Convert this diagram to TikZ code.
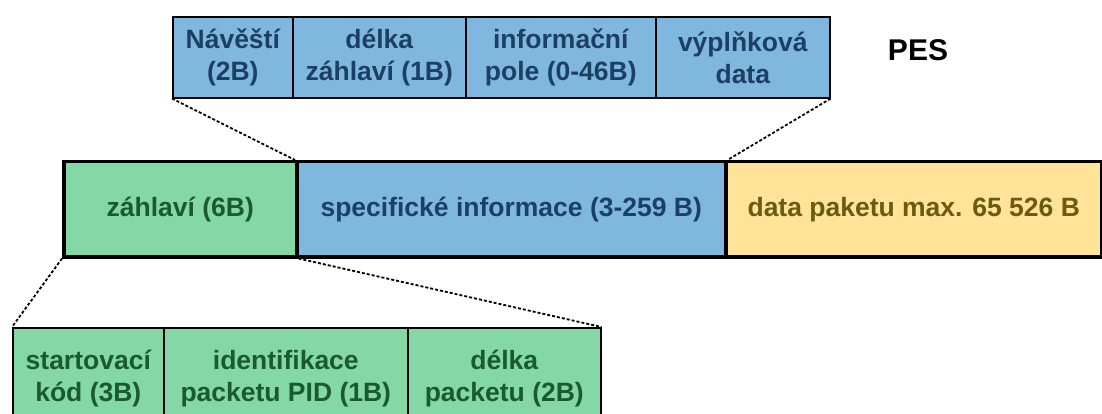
\documentclass[tikz,border=0pt]{standalone}
\usepackage{fontspec}
\setmainfont{Liberation Sans}
\definecolor{fblue}{HTML}{80B7DF}
\definecolor{fgreen}{HTML}{83D8A5}
\definecolor{fyellow}{HTML}{FFE497}
\definecolor{tblue}{HTML}{1C3F66}
\definecolor{tgreen}{HTML}{1A5A2C}
\definecolor{tbrown}{HTML}{6A5A12}
\tikzset{
  cell/.style={draw=black, anchor=north west, inner sep=0pt, align=center,
    font=\fontsize{26.5}{32}\selectfont\bfseries},
  topcell/.style={cell, fill=fblue, text=tblue, line width=1.6pt, minimum height=81pt},
  botcell/.style={cell, fill=fgreen, text=tgreen, line width=1.6pt, minimum height=102pt},
  midcell/.style={cell, line width=3.5pt, minimum height=95pt},
  zoomline/.style={line width=1.8pt, dash pattern=on 3pt off 2pt}
}
\begin{document}
\begin{tikzpicture}[x=1pt,y=-1pt]
\useasboundingbox (0,0) rectangle (1102,414);
\clip (0,0) rectangle (1102,414);
% top row
\node[topcell, minimum width=120pt] (t1) at (172,16) {Návěští\\(2B)};
\node[topcell, minimum width=173pt] (t2) at (292,16) {délka\\záhlaví (1B)};
\node[topcell, minimum width=190pt] (t3) at (465,16) {informační\\pole (0-46B)};
\node[topcell, minimum width=174pt] (t4) at (655,16) {výplňková\\data};
\node[font=\fontsize{30}{36}\selectfont\bfseries, anchor=center] (pes) at (918,50) {PES};
% middle row
\node[midcell, fill=fgreen, text=tgreen, minimum width=233pt] (m1) at (62,160) {záhlaví (6B)};
\node[midcell, fill=fblue, text=tblue, minimum width=429pt] (m2) at (295,160) {specifické informace (3-259 B)};
\node[midcell, fill=fyellow, text=tbrown, minimum width=376pt] (m3) at (724,160) {data paketu max. 65 526 B};
% bottom row
\node[botcell, minimum width=151pt] (b1) at (12,327) {startovací\\kód (3B)};
\node[botcell, minimum width=244pt] (b2) at (163,327) {identifikace\\packetu PID (1B)};
\node[botcell, minimum width=193pt] (b3) at (407,327) {délka\\packetu (2B)};
% zoom lines
\draw[zoomline] (t1.south west) -- (m2.north west);
\draw[zoomline] (t4.south east) -- (m2.north east);
\draw[zoomline] (m1.south west) -- (b1.north west);
\draw[zoomline] (m1.south east) -- (b3.north east);
\end{tikzpicture}
\end{document}
